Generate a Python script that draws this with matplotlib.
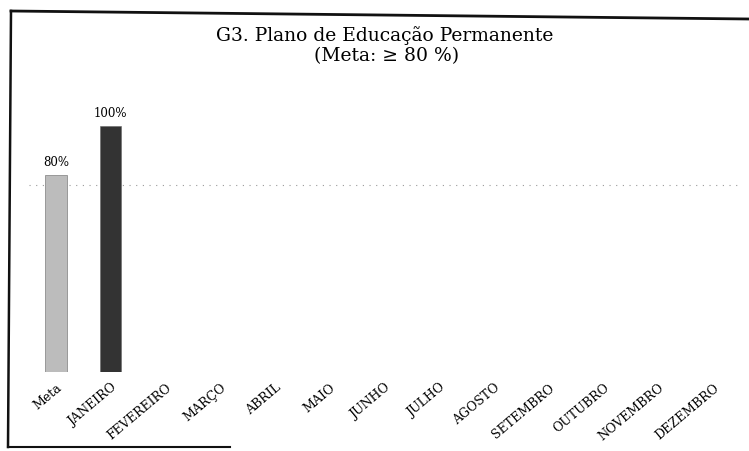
import matplotlib.pyplot as plt
from matplotlib.lines import Line2D

categorias = ["Meta", "JANEIRO", "FEVEREIRO", "MARÇO", "ABRIL", "MAIO", "JUNHO",
              "JULHO", "AGOSTO", "SETEMBRO", "OUTUBRO", "NOVEMBRO", "DEZEMBRO"]
valores = [80, 100, None, None, None, None, None, None, None, None, None, None, None]
cores = ["#bcbcbc", "#333333"]

plt.rcParams['font.family'] = ['DejaVu Serif']

W, H = 749, 452
fig = plt.figure(figsize=(W / 100, H / 100), dpi=100)
fig.patch.set_facecolor("white")

# moldura (scan levemente torto)
def px(x, y):
    return x / W, 1 - y / H

for (x0, y0), (x1, y1), lw in [((11, 12), (749, 20), 2.0),
                               ((11, 12), (8, 448), 1.8),
                               ((8, 448), (230, 448), 1.5)]:
    a, b = px(x0, y0)
    c, d = px(x1, y1)
    fig.add_artist(Line2D([a, c], [b, d], transform=fig.transFigure,
                          color="#111111", linewidth=lw))

ax = fig.add_axes([28.5 / W, (H - 373) / H, 712 / W, 293 / H])

x = list(range(len(categorias)))
for i, v in enumerate(valores):
    if v is None:
        continue
    ax.bar(i, v, width=0.39, color=cores[i], edgecolor="#666666", linewidth=0.4)
    ax.text(i, v + 3, f"{v}%", ha="center", va="bottom", fontsize=8.5)

ax.axhline(76, color="#9a9a9a", linestyle=(0, (1, 5)), linewidth=0.8, zorder=0)

ax.set_xlim(-0.5, len(categorias) - 0.5)
ax.set_ylim(0, 119.1)
ax.set_xticks(x)
ax.set_xticklabels(categorias, rotation=40, ha="right", rotation_mode="anchor", fontsize=9)
ax.tick_params(axis="x", length=0, pad=6)
ax.set_yticks([])
for s in ax.spines.values():
    s.set_visible(False)

fig.text(385 / W, 1 - 36 / H, "G3. Plano de Educação Permanente", ha="center", va="center", fontsize=13.5)
fig.text(387 / W, 1 - 56 / H, "(Meta: ≥ 80 %)", ha="center", va="center", fontsize=13.5)

fig.savefig("out.png", dpi=100)
